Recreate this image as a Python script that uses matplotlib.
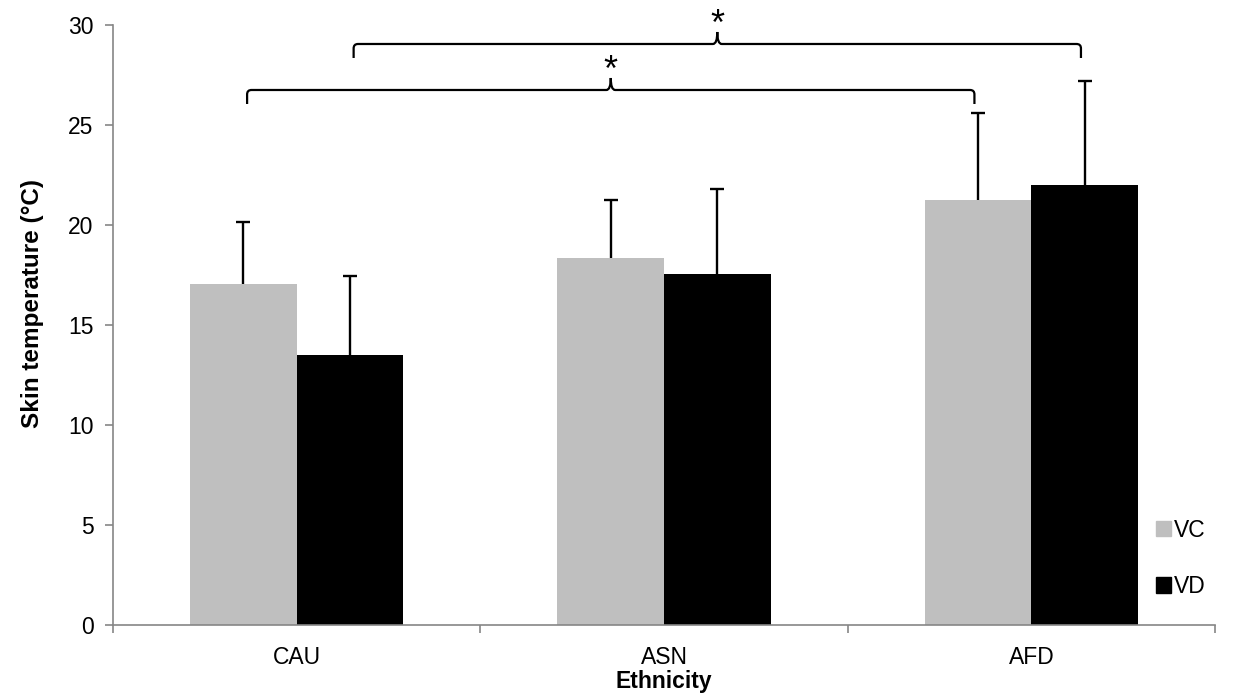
import matplotlib
matplotlib.use("Agg")
import matplotlib.pyplot as plt
from matplotlib.path import Path
from matplotlib.patches import PathPatch, Patch
import numpy as np

plt.rcParams['font.family'] = ['Liberation Sans', 'DejaVu Sans']

# data
groups = ['CAU', 'ASN', 'AFD']
vc_mean = [17.05, 18.35, 21.25]
vc_sd = [3.1, 2.9, 4.35]
vd_mean = [13.5, 17.55, 22.0]
vd_sd = [3.95, 4.25, 5.2]

# significance brackets: (bar_a, bar_b, line level)
brackets = [((0, 'VC'), (2, 'VC'), 26.75), ((0, 'VD'), (2, 'VD'), 29.05)]

GRAY = '#bfbfbf'
AXIS = '#868686'
width = 0.29
FS = 16.5

fig = plt.figure(figsize=(12.53, 6.98), dpi=100)
ax = fig.add_axes([0.0902, 0.1046, 0.8795, 0.8596])

x = np.arange(len(groups))
x_vc = x - width / 2
x_vd = x + width / 2
ax.bar(x_vc, vc_mean, width, color=GRAY, label='VC', zorder=2)
ax.bar(x_vd, vd_mean, width, color='black', label='VD', zorder=2)

for xs, m, s in [(x_vc, vc_mean, vc_sd), (x_vd, vd_mean, vd_sd)]:
    eb = ax.errorbar(xs, m, yerr=[np.zeros(len(s)), s], fmt='none', ecolor='black',
                     elinewidth=1.7, capsize=5, capthick=1.7, zorder=3)
    eb[1][0].set_visible(False)  # hide lower cap sitting on the bar top

ax.set_xlim(-0.5, 2.5)
ax.set_ylim(0, 30)
ax.set_yticks(np.arange(0, 31, 5))
ax.set_xticks(x)
ax.set_xticklabels(groups)
ax.set_xticks([-0.5, 0.5, 1.5, 2.5], minor=True)
ax.tick_params(axis='x', which='major', length=0, pad=15, labelsize=FS)
ax.tick_params(axis='x', which='minor', length=6, width=1.2, color=AXIS, direction='out')
ax.tick_params(axis='y', length=6, width=1.2, color=AXIS, direction='out', labelsize=FS, pad=8)

for side in ['top', 'right']:
    ax.spines[side].set_visible(False)
for side in ['left', 'bottom']:
    ax.spines[side].set_color(AXIS)
    ax.spines[side].set_linewidth(1.2)

ax.set_ylabel('Skin temperature (°C)', fontsize=17.5, fontweight='bold')
ax.yaxis.set_label_coords(-0.063, 0.535)
ax.set_xlabel('Ethnicity', fontsize=FS, fontweight='bold', labelpad=1)

# curly brackets with star
def bracket(xa, xb, yl, drop=0.7, rx=0.012, ry=0.22, cw=0.012, ch=0.6):
    xm = (xa + xb) / 2
    verts = [(xa, yl - drop), (xa, yl - ry), (xa, yl), (xa + rx, yl),
             (xm - cw, yl), (xm, yl), (xm, yl + ch),
             (xm, yl), (xm + cw, yl),
             (xb - rx, yl), (xb, yl), (xb, yl - ry), (xb, yl - drop)]
    codes = [Path.MOVETO, Path.LINETO, Path.CURVE3, Path.CURVE3,
             Path.LINETO, Path.CURVE3, Path.CURVE3,
             Path.CURVE3, Path.CURVE3,
             Path.LINETO, Path.CURVE3, Path.CURVE3, Path.LINETO]
    ax.add_patch(PathPatch(Path(verts, codes), fill=False, lw=1.6, ec='black',
                           clip_on=False, zorder=4))
    ax.text(xm, yl + 0.45, '*', ha='center', va='baseline', fontsize=26,
            clip_on=False)

pos = {'VC': x_vc, 'VD': x_vd}
for (ga, sa), (gb, sb), lvl in brackets:
    bracket(pos[sa][ga] + 0.01, pos[sb][gb] - 0.01, lvl)

handles = [Patch(color=GRAY, label='VC'), Patch(color='black', label='VD')]
fig.legend(handles=handles, loc='center left', bbox_to_anchor=(0.906, 0.2),
           frameon=False, fontsize=FS, handlelength=0.65, handleheight=0.65,
           handletextpad=0.15, labelspacing=1.45)

fig.savefig('out.png', dpi=100)
